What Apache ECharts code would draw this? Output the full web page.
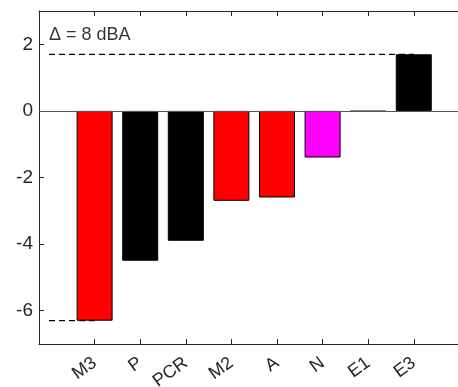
<!DOCTYPE html>
<html><head><meta charset="utf-8">
<script src="https://cdn.jsdelivr.net/npm/echarts@6/dist/echarts.min.js"></script>
<style>html,body{margin:0;padding:0;background:#fff}#c{width:458px;height:387px}</style>
</head><body><div id="c"></div>
<script>
const categories = ['M3','P','PCR','M2','A','N','E1','E3'];
const values = [-6.3, -4.5, -3.9, -2.7, -2.6, -1.4, -0.02, 1.7];
const barColors = ['#ff0000','#000000','#000000','#ff0000','#ff0000','#ff00ff','#000000','#000000'];
const yTicks = [-6, -4, -2, 0, 2];
const upperRef = 1.7, lowerRef = -6.3;
const annotation = '\u0394 = 8 dBA';

const xs = categories.map((c,i)=>i+1);
const font = 'Liberation Sans, Arial, Helvetica, sans-serif';
const axCol = '#262626';
const chart = echarts.init(document.getElementById('c'));
chart.setOption({
  animation:false,
  grid:{left:39, right:0, top:11, bottom:43, containLabel:false, outerBoundsMode:'none'},
  xAxis:[{
    type:'value', min:-0.22, max:8.97, position:'bottom',
    axisLine:{show:true, onZero:false, lineStyle:{color:axCol, width:1}},
    axisTick:{show:true, inside:true, length:5, customValues:xs, lineStyle:{color:axCol}},
    axisLabel:{customValues:xs, rotate:36, margin:17, color:axCol, fontFamily:font, fontSize:18,
      formatter:v=>categories[Math.round(v)-1]||''},
    splitLine:{show:false}
  },{
    type:'value', min:-0.22, max:8.97, position:'top',
    axisLine:{show:true, onZero:false, lineStyle:{color:axCol, width:1}},
    axisTick:{show:true, inside:true, length:5, customValues:xs, lineStyle:{color:axCol}},
    axisLabel:{show:false}, splitLine:{show:false}
  }],
  yAxis:{
    type:'value', min:-7, max:3,
    axisLine:{show:true, onZero:false, lineStyle:{color:axCol, width:1}},
    axisTick:{show:true, inside:true, length:5, customValues:yTicks, lineStyle:{color:axCol}},
    axisLabel:{customValues:yTicks, color:axCol, fontFamily:font, fontSize:19, margin:6},
    splitLine:{show:false}
  },
  series:[
    {type:'line', data:[[0,upperRef],[8,upperRef]], symbol:'none', z:1,
      lineStyle:{color:'#000', width:1.2, type:[6,4]}},
    {type:'line', data:[[0,lowerRef],[1,lowerRef]], symbol:'none', z:1,
      lineStyle:{color:'#000', width:1.2, type:[6,4]}},
    {type:'bar', z:2, barWidth:36,
      data:values.map((v,i)=>({value:[xs[i],v], itemStyle:{color:barColors[i], borderColor:'#000', borderWidth:1}})),
      markLine:{silent:true, symbol:'none', label:{show:false},
        lineStyle:{color:'#555', type:'solid', width:1},
        data:[[{coord:[-0.22,0]},{coord:[8.97,0]}]]}
    },
    {type:'scatter', z:3, symbolSize:0, data:[[0,2.28]],
      label:{show:true, position:'right', distance:0, formatter:annotation, color:'#000', fontFamily:font, fontSize:18}}
  ]
});
</script></body></html>
